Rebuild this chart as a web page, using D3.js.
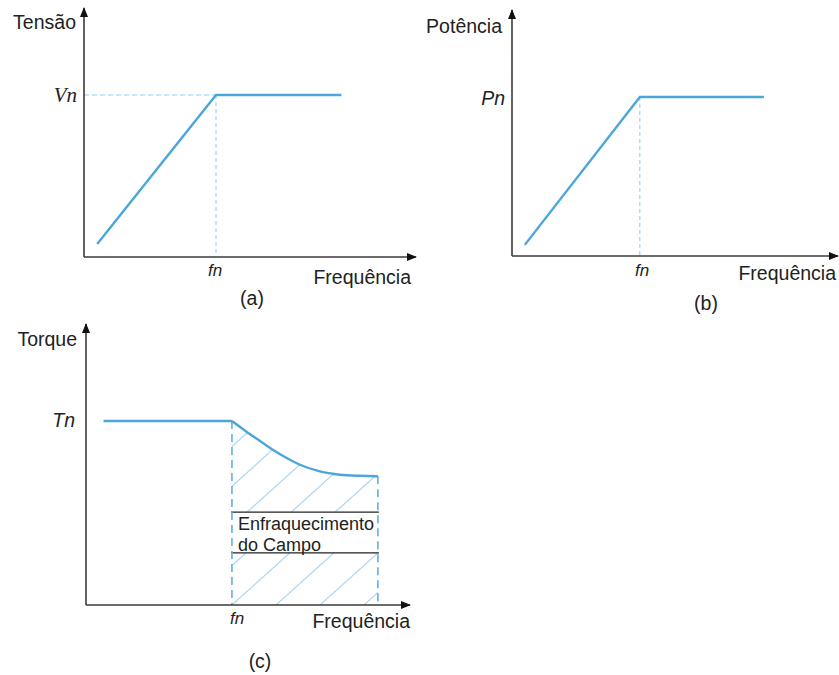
<!DOCTYPE html>
<html><head><meta charset="utf-8">
<script src="https://cdn.jsdelivr.net/npm/d3@7"></script>
<style>body{margin:0;background:#fff}svg{display:block}text{font-family:"Liberation Sans",Arial,sans-serif;fill:#222}</style>
</head><body>
<svg id="c" width="839" height="675"></svg>
<script>
// ---- data (normalised: fn = 1, rated value = 1) ----
const tensaoFreq = [0.1, 1, 1.95];
const tensaoVals = [0.08, 1, 1];
const potenciaFreq = [0.1, 1, 1.97];
const potenciaVals = [0.07, 1, 1];
const torqueFreq = [0.12, 1, 1.1, 1.19, 1.28, 1.375, 1.466, 1.603, 1.74, 1.877, 2.0];
const torqueVals = [1, 1, 0.942, 0.893, 0.844, 0.799, 0.762, 0.726, 0.708, 0.702, 0.70];
const fieldBand = [0.283, 0.505];   // "Enfraquecimento do Campo" box, torque units
const fnValue = 1, ratedValue = 1;
const yLabels = ["Tensão", "Potência", "Torque"];
const ratedLabels = ["Vn", "Pn", "Tn"];
const xLabel = "Frequência";
const freqTick = "fn";
const captions = ["(a)", "(b)", "(c)"];
const bandText = ["Enfraquecimento", "do Campo"];

const svg = d3.select("#c");
const LINE = "#4ba6dc", DASH = "#8ccbef", HATCH = "#b3d8f0", AX = "#3a3a3a";
const FS = 19.5;

const defs = svg.append("defs");
defs.append("marker").attr("id","arr").attr("viewBox","0 0 10 10").attr("refX",9).attr("refY",5)
  .attr("markerWidth",10).attr("markerHeight",10).attr("markerUnits","userSpaceOnUse").attr("orient","auto")
  .append("path").attr("d","M0,1 L10,5 L0,9 Z").attr("fill","#111");

const panels = [
  {xs: d3.scaleLinear([0,2.515],[84,416]), ys: d3.scaleLinear([0,1.537],[257,8]),
   fx: tensaoFreq, fy: tensaoVals, hdash:true,
   yl:[76,29], rl:[77,102], serifRated:true, fnl:[215,276], xl:[411,284], cap:[252,305]},
  {xs: d3.scaleLinear([0,2.55],[512,838]), ys: d3.scaleLinear([0,1.547],[256,10]),
   fx: potenciaFreq, fy: potenciaVals, hdash:false,
   yl:[502,33], rl:[505,105], fnl:[642,276], xl:[836,280], cap:[706,310]},
  {xs: d3.scaleLinear([0,2.22],[86,410]), ys: d3.scaleLinear([0,1.527],[605,324]),
   fx: torqueFreq, fy: torqueVals, hdash:false, torque:true,
   yl:[77,346], rl:[75,427], fnl:[237,624], xl:[410,628], cap:[260,668]}
];

panels.forEach((p,i)=>{
  const g = svg.append("g");
  const {xs, ys} = p;
  const pts = p.fx.map((f,k)=>[f,p.fy[k]]);
  const line = d3.line().x(d=>xs(d[0])).y(d=>ys(d[1]));
  if (p.torque) {
    const fieldPts = pts.filter(d=>d[0]>=fnValue);
    const constPts = pts.filter(d=>d[0]<=fnValue);
    const area = d3.area().x(d=>xs(d[0])).y0(ys(0)).y1(d=>ys(d[1])).curve(d3.curveMonotoneX);
    defs.append("clipPath").attr("id","hclip").append("path").attr("d", area(fieldPts));
    const x0 = xs(fnValue), x1 = xs(d3.max(torqueFreq)), yb = ys(0);
    const hg = g.append("g").attr("clip-path","url(#hclip)");
    for (let k=-8;k<=4;k++){
      const sx = x0 + 44*k;
      hg.append("line").attr("x1",sx).attr("y1",yb).attr("x2",sx+260).attr("y2",yb-234)
        .attr("stroke",HATCH).attr("stroke-width",1.3);
    }
    g.append("rect").attr("x",x0).attr("y",ys(fieldBand[1])).attr("width",x1-x0)
      .attr("height",ys(fieldBand[0])-ys(fieldBand[1])).attr("fill","#fff");
    fieldBand.forEach(v=>g.append("line").attr("x1",x0-1).attr("x2",x1+1).attr("y1",ys(v)).attr("y2",ys(v))
      .attr("stroke","#222").attr("stroke-width",1.3));
    bandText.forEach((t,j)=>g.append("text").attr("x",x0+6).attr("y",ys(fieldBand[1])+18+21*j)
      .attr("font-size",18).text(t));
    [fnValue, d3.max(torqueFreq)].forEach(f=>{
      const yTop = ys(torqueVals[torqueFreq.indexOf(f)]);
      g.append("line").attr("x1",xs(f)).attr("x2",xs(f)).attr("y1",yTop).attr("y2",yb)
        .attr("stroke","#5fb0e2").attr("stroke-width",1.6).attr("stroke-dasharray","8,5");
    });
    g.append("path").attr("d",line(constPts)).attr("fill","none").attr("stroke",LINE).attr("stroke-width",2.4);
    g.append("path").attr("d",line.curve(d3.curveMonotoneX)(fieldPts)).attr("fill","none")
      .attr("stroke",LINE).attr("stroke-width",2.4).attr("stroke-linejoin","round");
  } else {
    g.append("line").attr("x1",xs(fnValue)).attr("x2",xs(fnValue)).attr("y1",ys(ratedValue)).attr("y2",ys(0))
      .attr("stroke",DASH).attr("stroke-width",1).attr("stroke-dasharray","4,3");
    if (p.hdash) g.append("line").attr("x1",xs(0)).attr("x2",xs(fnValue)).attr("y1",ys(ratedValue)).attr("y2",ys(ratedValue))
      .attr("stroke",DASH).attr("stroke-width",1).attr("stroke-dasharray","5,3");
    g.append("path").attr("d",line(pts)).attr("fill","none").attr("stroke",LINE).attr("stroke-width",2.4);
  }
  // axes
  g.append("line").attr("x1",xs(0)).attr("y1",ys(0)).attr("x2",xs.range()[1]).attr("y2",ys(0))
    .attr("stroke",AX).attr("stroke-width",1.6).attr("marker-end","url(#arr)");
  g.append("line").attr("x1",xs(0)).attr("y1",ys(0)).attr("x2",xs(0)).attr("y2",ys.range()[1])
    .attr("stroke",AX).attr("stroke-width",1.6).attr("marker-end","url(#arr)");
  // labels
  g.append("text").attr("x",p.yl[0]).attr("y",p.yl[1]).attr("text-anchor","end").attr("font-size",FS).text(yLabels[i]);
  g.append("text").attr("x",p.rl[0]).attr("y",p.rl[1]).attr("text-anchor","end")
    .attr("font-size", p.serifRated?21:FS).attr("font-style","italic")
    .style("font-family", p.serifRated?"'Liberation Serif','Times New Roman',serif":null).text(ratedLabels[i]);
  g.append("text").attr("x",p.fnl[0]).attr("y",p.fnl[1]).attr("text-anchor","middle").attr("font-size",17)
    .attr("font-style","italic").text(freqTick);
  g.append("text").attr("x",p.xl[0]).attr("y",p.xl[1]).attr("text-anchor","end").attr("font-size",FS).text(xLabel);
  g.append("text").attr("x",p.cap[0]).attr("y",p.cap[1]).attr("text-anchor","middle").attr("font-size",FS).text(captions[i]);
});
</script>
</body></html>
